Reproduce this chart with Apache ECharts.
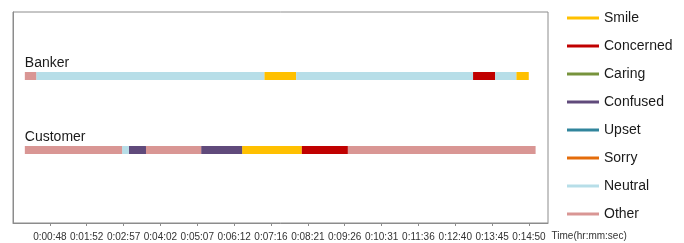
<!DOCTYPE html>
<html>
<head>
<meta charset="utf-8">
<script src="https://cdn.jsdelivr.net/npm/echarts@6/dist/echarts.min.js"></script>
<style>
  html, body { margin: 0; padding: 0; background: #fff; }
  #chart { width: 684px; height: 243px; }
</style>
</head>
<body>
<div id="chart"></div>
<script>
// emotions shown in the legend, in legend order
const emotions = ['Smile', 'Concerned', 'Caring', 'Confused', 'Upset', 'Sorry', 'Neutral', 'Other']
const emotionColors = ['#ffc000', '#c00000', '#77933c', '#604a7b', '#31859c', '#e46c0a', '#b7dee8', '#d99694']

const rows = ['Banker', 'Customer']

// segment boundaries in seconds, and the emotion of each segment
const bankerBounds = [4, 24, 425, 481, 792, 831, 868, 890]
const bankerEmotions = ['Other', 'Neutral', 'Smile', 'Neutral', 'Concerned', 'Neutral', 'Smile']
const customerBounds = [4, 175, 187, 217, 314, 386, 491, 572, 902]
const customerEmotions = ['Other', 'Neutral', 'Confused', 'Other', 'Confused', 'Smile', 'Concerned', 'Other']

// time axis (seconds): excel starts it below zero, one step before the first label
const axisStart = -16.8
const axisEnd = 923.8
const axisStep = 64.8
const tickLabels = ['0:00:48', '0:01:52', '0:02:57', '0:04:02', '0:05:07', '0:06:12', '0:07:16',
  '0:08:21', '0:09:26', '0:10:31', '0:11:36', '0:12:40', '0:13:45', '0:14:50']

const BAR_H = 8
const textFont = 'Liberation Sans'

// axis runs from 0 so ticks land on multiples of the step
const toAxis = t => t - axisStart

const segments = []
const addRow = (rowIdx, bounds, emos) => {
  emos.forEach((e, i) => {
    segments.push({ emotion: e, value: [rowIdx, toAxis(bounds[i]), toAxis(bounds[i + 1])] })
  })
}
addRow(0, bankerBounds, bankerEmotions)
addRow(1, customerBounds, customerEmotions)

const renderSegment = (params, api) => {
  const row = api.value(0)
  const p0 = api.coord([api.value(1), row])
  const p1 = api.coord([api.value(2), row])
  return {
    type: 'rect',
    shape: { x: p0[0], y: p0[1] - BAR_H / 2, width: p1[0] - p0[0], height: BAR_H },
    style: { fill: api.visual('color') },
  }
}

const series = emotions.map((name, i) => ({
  name,
  type: 'custom',
  renderItem: renderSegment,
  itemStyle: { color: emotionColors[i] },
  encode: { x: [1, 2], y: 0 },
  data: segments.filter(s => s.emotion === name).map(s => s.value),
  silent: true,
}))

// row names above the start of each bar
series.push({
  type: 'custom',
  renderItem: (params, api) => {
    const p = api.coord([api.value(1), api.value(0)])
    return {
      type: 'text',
      x: p[0],
      y: p[1] - 13,
      style: {
        text: rows[params.dataIndex],
        font: '14px "' + textFont + '"',
        fill: '#1a1a1a',
        textAlign: 'left',
        textVerticalAlign: 'middle',
      },
    }
  },
  encode: { x: 1, y: 0 },
  data: [[0, toAxis(bankerBounds[0])], [1, toAxis(customerBounds[0])]],
  silent: true,
})

const chart = echarts.init(document.getElementById('chart'), null, { renderer: 'canvas' })
chart.setOption({
  animation: false,
  grid: {
    left: 13, top: 12, right: 136, bottom: 20,
    show: true, borderColor: '#8c8c8c', borderWidth: 1,
  },
  legend: {
    data: emotions,
    orient: 'vertical',
    left: 567,
    top: 10,
    padding: 0,
    icon: 'rect',
    itemWidth: 32,
    itemHeight: 3,
    itemGap: 12,
    textStyle: { fontFamily: textFont, fontSize: 14, lineHeight: 16, color: '#1a1a1a' },
    selectedMode: false,
  },
  xAxis: {
    type: 'value',
    min: 0,
    max: toAxis(axisEnd),
    interval: axisStep,
    name: 'Time(hr:mm:sec)',
    nameLocation: 'end',
    nameGap: 2,
    nameTextStyle: {
      fontFamily: textFont, fontSize: 10, color: '#333',
      verticalAlign: 'top', padding: [8, 0, 0, 0],
    },
    axisLine: { show: true, onZero: false, lineStyle: { color: '#8c8c8c' } },
    axisTick: { show: true, length: 3, lineStyle: { color: '#8c8c8c' } },
    splitLine: { show: false },
    axisLabel: {
      margin: 9,
      fontFamily: textFont,
      fontSize: 10,
      color: '#333',
      showMinLabel: false,
      showMaxLabel: false,
      hideOverlap: false,
      formatter: v => {
        const idx = Math.round(v / axisStep) - 1
        return tickLabels[idx] || ''
      },
    },
  },
  yAxis: {
    type: 'value',
    inverse: true,
    min: -0.865,
    max: 1.986,
    axisLine: { show: true, onZero: false, lineStyle: { color: '#8c8c8c' } },
    axisTick: { show: false },
    axisLabel: { show: false },
    splitLine: { show: false },
  },
  series,
})
</script>
</body>
</html>
